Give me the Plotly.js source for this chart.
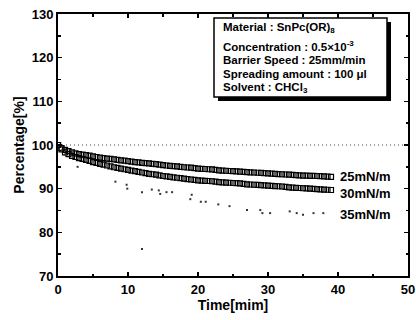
<!DOCTYPE html>
<html><head><meta charset="utf-8">
<script src="https://cdn.plot.ly/plotly-3.0.1.min.js"></script>
<style>html,body{margin:0;padding:0;background:#fff}#chart{width:416px;height:320px}</style>
</head><body><div id="chart"></div>
<script>
// time step 0.5 min starting at 0
const t0 = 0, dt = 0.5;
const s25 = [100,99.3,98.9,98.6,98.3,98.1,97.9,97.8,97.7,97.55,97.4,97.25,97.1,97.0,96.9,96.8,96.7,96.6,96.5,96.4,96.3,96.2,96.1,96.0,95.9,95.85,95.8,95.7,95.6,95.5,95.4,95.3,95.2,95.15,95.1,95.0,94.9,94.85,94.8,94.7,94.6,94.55,94.5,94.45,94.4,94.3,94.2,94.15,94.1,94.05,94.0,93.95,93.9,93.85,93.8,93.75,93.7,93.65,93.6,93.55,93.5,93.45,93.4,93.35,93.3,93.25,93.2,93.15,93.1,93.05,93.0,92.98,92.95,92.92,92.9,92.85,92.8,92.75,92.7];
const s30 = [100,99.0,98.3,97.9,97.5,97.25,97.0,96.8,96.6,96.35,96.1,95.9,95.7,95.5,95.3,95.1,94.9,94.75,94.6,94.45,94.3,94.15,94.0,93.85,93.7,93.55,93.4,93.3,93.2,93.05,92.9,92.8,92.7,92.6,92.5,92.4,92.3,92.2,92.1,92.0,91.9,91.85,91.8,91.75,91.7,91.6,91.5,91.45,91.4,91.35,91.3,91.25,91.2,91.1,91.0,90.95,90.9,90.85,90.8,90.75,90.7,90.65,90.6,90.55,90.5,90.4,90.3,90.25,90.2,90.15,90.1,90.05,90.0,89.95,89.9,89.85,89.8,89.75,89.7];
const t35 = [0,0.5,1,2.8,8.2,9.8,9.9,12,12,13.4,14.4,14.6,15.5,16.3,18.9,19.1,20.4,21.1,22.9,24.5,27,28.9,29.2,30.3,33.1,34.1,35,36.5,37.9];
const s35 = [100,98.8,97.8,95.0,91.6,90.9,90.0,89.2,76.2,89.8,89.6,88.8,89.2,89.2,87.6,88.6,87.0,87.0,86.4,86.0,85.1,85.1,84.4,84.4,84.8,84.4,84.0,84.4,84.4];
const refX = [0,50];
const refY = [100,100];
const seriesNames = ['25mN/m','30mN/m','35mN/m'];
const infoLines = ['Material : SnPc(OR)<sub>8</sub>','Concentration : 0.5×10<sup>-3</sup>','Barrier Speed : 25mm/min','Spreading amount : 100 μl','Solvent : CHCl<sub>3</sub>'];

const F = 'Liberation Sans, Arial, sans-serif';
const traces = [
  {x:refX,y:refY,mode:'lines',line:{color:'#444',width:1,dash:'1px,3px'},hoverinfo:'skip'},
  {x0:t0,dx:dt,y:s25,mode:'markers',marker:{symbol:'square-open',size:5,color:'#000',line:{width:1.2,color:'#000'}}},
  {x0:t0,dx:dt,y:s30,mode:'markers',marker:{symbol:'square-open',size:5,color:'#000',line:{width:1.2,color:'#000'}}},
  {x:t35,y:s35,mode:'markers',marker:{symbol:'square',size:2,color:'#333'}}
];
// pixel helpers for box (plot area x:58-408, y:14-276)
const px = v => (v-58)/350, py = v => (276-v)/262;
const shapes = [
  {type:'rect',xref:'paper',yref:'paper',x0:px(218),x1:px(391),y0:py(101),y1:py(22),fillcolor:'#000',line:{width:0}},
  {type:'rect',xref:'paper',yref:'paper',x0:px(214),x1:px(387),y0:py(97),y1:py(18),fillcolor:'#fff',line:{width:1.5,color:'#000'}}
];
const lineY = [28,46,60,74,88];
const annotations = infoLines.map((s,i)=>({xref:'paper',yref:'paper',x:px(221),y:py(lineY[i]),xanchor:'left',yanchor:'middle',text:s,showarrow:false,font:{family:F,size:11.5,color:'#000',weight:'bold'}}));
const labY = [92.8,89.0,84.1];
seriesNames.forEach((n,i)=>annotations.push({x:40,y:labY[i],xref:'x',yref:'y',xanchor:'left',yanchor:'middle',text:n,showarrow:false,font:{family:F,size:13,color:'#000',weight:'bold'}}));

const axisCommon = {showgrid:false,zeroline:false,showline:true,linecolor:'#000',linewidth:2,mirror:'allticks',ticks:'inside',ticklen:4,tickwidth:1.5,tickcolor:'#000',tickfont:{family:F,size:13,color:'#000',weight:'bold'}};
const layout = {
  width:416,height:320,margin:{l:58,r:8,t:14,b:44},paper_bgcolor:'#fff',plot_bgcolor:'#fff',showlegend:false,
  xaxis:Object.assign({},axisCommon,{range:[0,50],dtick:10,tick0:0,minor:{dtick:5,ticks:'inside',ticklen:2.5,tickcolor:'#000'},title:{text:'Time[mim]',standoff:4,font:{family:F,size:14,color:'#000',weight:'bold'}}}),
  yaxis:Object.assign({},axisCommon,{range:[70,130],dtick:10,tick0:70,minor:{dtick:5,ticks:'inside',ticklen:2.5,tickcolor:'#000'},title:{text:'Percentage[%]',standoff:4,font:{family:F,size:14,color:'#000',weight:'bold'}}}),
  shapes:shapes,annotations:annotations
};
Plotly.newPlot('chart',traces,layout,{staticPlot:true,displayModeBar:false});
</script></body></html>
